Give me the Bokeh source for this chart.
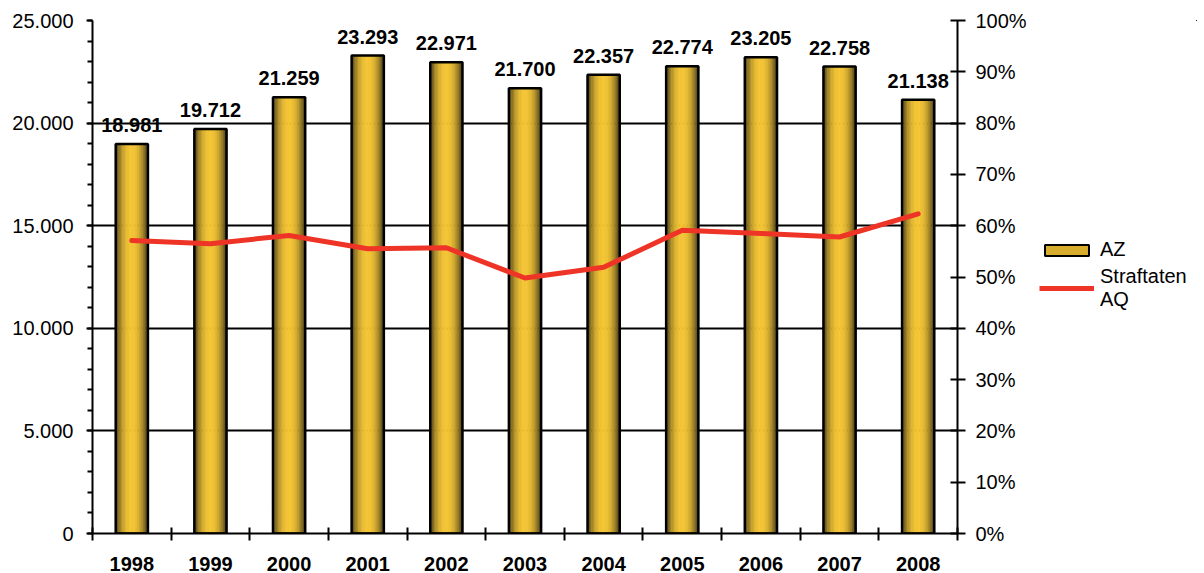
import numpy as np
from bokeh.plotting import figure
from bokeh.layouts import row
from bokeh.models import (Range1d, LinearAxis, FixedTicker, SingleIntervalTicker,
                          ColumnDataSource, Legend, LegendItem)
from bokeh.core.properties import value
from bokeh.embed import file_html
from bokeh.resources import INLINE

# ---------------- data ----------------
years = ["1998", "1999", "2000", "2001", "2002", "2003", "2004", "2005", "2006", "2007", "2008"]
az = [18981, 19712, 21259, 23293, 22971, 21700, 22357, 22774, 23205, 22758, 21138]
aq = [57.1, 56.5, 58.1, 55.5, 55.7, 49.8, 51.9, 59.1, 58.5, 57.8, 62.3]
az_labels = ["18.981", "19.712", "21.259", "23.293", "22.971", "21.700",
             "22.357", "22.774", "23.205", "22.758", "21.138"]
left_ticks = [0, 5000, 10000, 15000, 20000, 25000]
left_tick_labels = ["0", "5.000", "10.000", "15.000", "20.000", "25.000"]
right_ticks = [0, 10, 20, 30, 40, 50, 60, 70, 80, 90, 100]
right_tick_labels = ["0%", "10%", "20%", "30%", "40%", "50%", "60%", "70%", "80%", "90%", "100%"]
series_names = ["AZ", "Straftaten\nAQ"]

FONT = "Liberation Sans"
BAR_COLOR = "#d8ad2e"
LINE_COLOR = "#ee3426"
idx = np.arange(len(years))

p = figure(frame_width=865, frame_height=513, output_backend="svg", toolbar_location=None,
           x_range=Range1d(-0.5, len(years) - 0.5), y_range=Range1d(0, 25000),
           min_border_left=92, min_border_right=0, min_border_top=20, min_border_bottom=38,
           background_fill_color="white", border_fill_color="white")
p.outline_line_color = None
p.xgrid.grid_line_color = None
p.extra_y_ranges = {"pct": Range1d(0, 100)}

# ---------------- axes ----------------
p.xaxis.ticker = FixedTicker(ticks=list(idx), minor_ticks=[i - 0.5 for i in range(len(years) + 1)])
p.xaxis.major_label_overrides = {int(i): y for i, y in zip(idx, years)}
p.xaxis.major_tick_out = 0
p.xaxis.major_tick_in = 0
p.xaxis.minor_tick_in = 6
p.xaxis.minor_tick_out = 7
p.xaxis.minor_tick_line_width = 2
p.xaxis.minor_tick_line_color = "black"
p.xaxis.axis_line_width = 2
p.xaxis.axis_line_color = "black"
p.xaxis.major_label_text_font = FONT
p.xaxis.major_label_text_font_style = "bold"
p.xaxis.major_label_text_font_size = "20px"
p.xaxis.major_label_text_color = "black"
p.xaxis.major_label_standoff = 16

p.yaxis.ticker = SingleIntervalTicker(interval=5000, num_minor_ticks=5)
p.yaxis.major_label_overrides = {t: l for t, l in zip(left_ticks, left_tick_labels)}
p.yaxis.major_tick_out = 6
p.yaxis.major_tick_in = 0
p.yaxis.minor_tick_out = 5
p.yaxis.minor_tick_in = 0
p.yaxis.major_tick_line_width = 2
p.yaxis.minor_tick_line_width = 2
p.yaxis.axis_line_width = 2
p.yaxis.axis_line_color = "black"
p.yaxis.major_label_text_font = FONT
p.yaxis.major_label_text_font_size = "20px"
p.yaxis.major_label_text_color = "black"
p.yaxis.major_label_standoff = 13

p.ygrid.ticker = SingleIntervalTicker(interval=5000)
p.ygrid.grid_line_color = "black"
p.ygrid.grid_line_width = 2

raxis = LinearAxis(y_range_name="pct",
                   ticker=SingleIntervalTicker(interval=10, num_minor_ticks=0))
raxis.major_label_overrides = {t: l for t, l in zip(right_ticks, right_tick_labels)}
raxis.major_tick_out = 8
raxis.major_tick_in = 7
raxis.major_tick_line_width = 2
raxis.axis_line_width = 2
raxis.axis_line_color = "black"
raxis.major_label_text_font = FONT
raxis.major_label_text_font_size = "20px"
raxis.major_label_text_color = "black"
raxis.major_label_standoff = 10
p.add_layout(raxis, "right")

# ---------------- bars (horizontal gradient built from thin strips) ----------------
bar_w = 0.41
src = ColumnDataSource(dict(x=idx, top=az, label=az_labels, aq=aq))

dark = np.array([0x3e, 0x34, 0x16], float)
gold = np.array([0xf3, 0xc4, 0x33], float)
n = 24
step = bar_w / n
for k in range(n):
    t = (k + 0.5) / n
    w = 1 - abs(2 * t - 1) ** 2.2
    c = dark + (gold - dark) * w
    col = "#%02x%02x%02x" % tuple(int(round(v)) for v in c)
    off = -bar_w / 2 + (k + 0.5) * step
    p.vbar(x=idx + off, top=az, width=step * 1.35, fill_color=col, line_color=None)

p.vbar(x="x", top="top", width=bar_w, source=src, fill_color=None,
       line_color="black", line_width=2.5)

# value labels
p.text(x="x", y="top", text="label", source=src, text_align="center", text_baseline="bottom",
       y_offset=-12, text_font=value(FONT), text_font_style="bold",
       text_font_size="20px", text_color="black")

# ---------------- line ----------------
p.line(x="x", y="aq", source=src, y_range_name="pct",
       line_color=LINE_COLOR, line_width=5, line_join="round", line_cap="round")

# ---------------- legend (separate narrow canvas to the right) ----------------
# the legend canvas views a range far away from the data, so only the legend glyphs show
lg = figure(frame_width=158, frame_height=513, output_backend="svg", toolbar_location=None,
            x_axis_type=None, y_axis_type=None,
            x_range=Range1d(-100, -99), y_range=Range1d(-100, -99),
            min_border_left=10, min_border_top=20, min_border_right=0, min_border_bottom=38,
            background_fill_color="white", border_fill_color="white")
lg.outline_line_color = None
lg.grid.grid_line_color = None
r_bar = lg.vbar(x="x", top="top", width=bar_w, source=src,
                fill_color=BAR_COLOR, line_color="black", line_width=2)
r_line = lg.line(x="x", y="aq", source=src, line_color=LINE_COLOR, line_width=5)
legend = Legend(items=[LegendItem(label=series_names[0], renderers=[r_bar]),
                       LegendItem(label=series_names[1], renderers=[r_line])],
                location=(0, 222), orientation="vertical",
                background_fill_alpha=0, border_line_color=None,
                label_text_font=FONT, label_text_font_size="20px", label_text_color="black",
                glyph_width=55, glyph_height=14, label_standoff=6, spacing=4,
                padding=0, margin=0)
lg.add_layout(legend)

layout = row(p, lg)
open("out.html", "w").write(file_html(layout, INLINE))
